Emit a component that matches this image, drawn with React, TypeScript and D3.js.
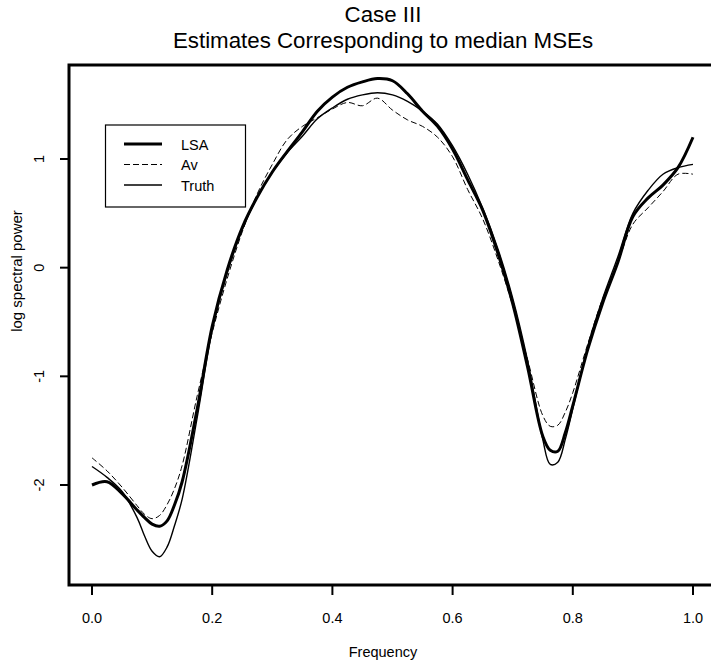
import * as d3 from "d3";

const freq = [
  0, 0.025, 0.05, 0.075, 0.0875, 0.1, 0.1125, 0.125, 0.1375, 0.15, 0.175, 0.2, 0.225, 0.25,
  0.275, 0.3, 0.325, 0.35, 0.375, 0.4, 0.425, 0.45, 0.475, 0.5, 0.525, 0.55, 0.575, 0.6,
  0.625, 0.65, 0.675, 0.7, 0.725, 0.75, 0.7625, 0.775, 0.7875, 0.8, 0.825, 0.85, 0.875,
  0.9, 0.925, 0.95, 0.975, 1.0,
];

const lsa = [
  -2.0, -1.97, -2.08, -2.23, -2.3, -2.36, -2.38, -2.33, -2.18, -1.97, -1.3, -0.54, -0.02, 0.37,
  0.65, 0.88, 1.07, 1.25, 1.44, 1.57, 1.66, 1.71, 1.74, 1.72, 1.6, 1.44, 1.3, 1.09,
  0.81, 0.53, 0.14, -0.33, -0.92, -1.55, -1.68, -1.69, -1.52, -1.27, -0.75, -0.32, 0.05,
  0.47, 0.64, 0.76, 0.92, 1.2,
];

const av = [
  -1.75, -1.87, -2.02, -2.19, -2.27, -2.31, -2.28, -2.18, -2.03, -1.82, -1.18, -0.6, -0.1, 0.33,
  0.68, 0.95, 1.18, 1.3, 1.38, 1.46, 1.52, 1.49, 1.56, 1.45, 1.36, 1.3, 1.2, 1.02,
  0.72, 0.45, 0.08, -0.35, -0.85, -1.36, -1.46, -1.45, -1.33, -1.15, -0.7, -0.28, 0.05,
  0.4, 0.55, 0.7, 0.86, 0.86,
];

const truth = [
  -1.83, -1.93, -2.06, -2.3, -2.47, -2.61, -2.66, -2.57, -2.37, -2.13, -1.38, -0.58, -0.05, 0.35,
  0.65, 0.88, 1.06, 1.21, 1.37, 1.47, 1.55, 1.59, 1.61, 1.59, 1.53, 1.44, 1.32, 1.12,
  0.86, 0.55, 0.18, -0.28, -0.86, -1.58, -1.81, -1.79, -1.58, -1.3, -0.72, -0.28, 0.1,
  0.5, 0.71, 0.86, 0.92, 0.95,
];

const xTicks = [0, 0.2, 0.4, 0.6, 0.8, 1.0];
const yTicks = [-2, -1, 0, 1];
const legendNames = ["LSA", "Av", "Truth"];

const W = 711;
const H = 665;
const font = "'Liberation Sans', Arial, Helvetica, sans-serif";

export default function App() {
  const x = d3.scaleLinear().domain([0, 1]).range([92, 693]);
  const y = d3.scaleLinear().domain([-2, 1]).range([485, 159]);
  const left = 69, top = 65, bottom = 585;

  const mk = (vals: number[]) =>
    d3
      .line<number>()
      .x((_, i) => x(freq[i]))
      .y((d) => y(d))
      .curve(d3.curveCatmullRom.alpha(0.5))(vals) as string;

  const styles = [
    { w: 3, dash: undefined as string | undefined },
    { w: 1, dash: "6,3" },
    { w: 1.4, dash: undefined as string | undefined },
  ];

  return (
    <svg width={W} height={H} style={{ position: "absolute", left: 0, top: 0, background: "#fff" }} fontFamily={font}>
      <rect width={W} height={H} fill="#fff" />
      {/* titles */}
      <text x={383} y={22} textAnchor="middle" fontSize={22.3}>Case III</text>
      <text x={383} y={48} textAnchor="middle" fontSize={22.3}>Estimates Corresponding to median MSEs</text>

      {/* frame: top, left, bottom */}
      <path d={`M${W},${top}H${left}V${bottom}H${W}`} fill="none" stroke="#000" strokeWidth={3} />

      {/* x axis */}
      {xTicks.map((t) => (
        <g key={"x" + t}>
          <line x1={x(t)} x2={x(t)} y1={bottom} y2={bottom + 10} stroke="#000" strokeWidth={2} />
          <text x={x(t)} y={623} textAnchor="middle" fontSize={14.5}>{t.toFixed(1)}</text>
        </g>
      ))}
      {/* y axis */}
      {yTicks.map((t) => (
        <g key={"y" + t}>
          <line x1={left - 9} x2={left} y1={y(t)} y2={y(t)} stroke="#000" strokeWidth={2} />
          <text transform={`translate(44,${y(t)}) rotate(-90)`} textAnchor="middle" fontSize={14.5}>{t}</text>
        </g>
      ))}
      <text x={383} y={657} textAnchor="middle" fontSize={14.5}>Frequency</text>
      <text transform={`translate(22,271) rotate(-90)`} textAnchor="middle" fontSize={15}>log spectral power</text>

      {/* curves */}
      <path d={mk(truth)} fill="none" stroke="#000" strokeWidth={styles[2].w} />
      <path d={mk(av)} fill="none" stroke="#000" strokeWidth={styles[1].w} strokeDasharray={styles[1].dash} />
      <path d={mk(lsa)} fill="none" stroke="#000" strokeWidth={styles[0].w} />

      {/* legend */}
      <rect x={105.5} y={125} width={140} height={82} fill="#fff" stroke="#000" strokeWidth={1.2} />
      {legendNames.map((n, i) => (
        <g key={n}>
          <line x1={124} x2={162} y1={144 + i * 20.5} y2={144 + i * 20.5} stroke="#000"
            strokeWidth={styles[i].w} strokeDasharray={styles[i].dash} />
          <text x={181} y={149.5 + i * 20.5} fontSize={14.5}>{n}</text>
        </g>
      ))}
    </svg>
  );
}
